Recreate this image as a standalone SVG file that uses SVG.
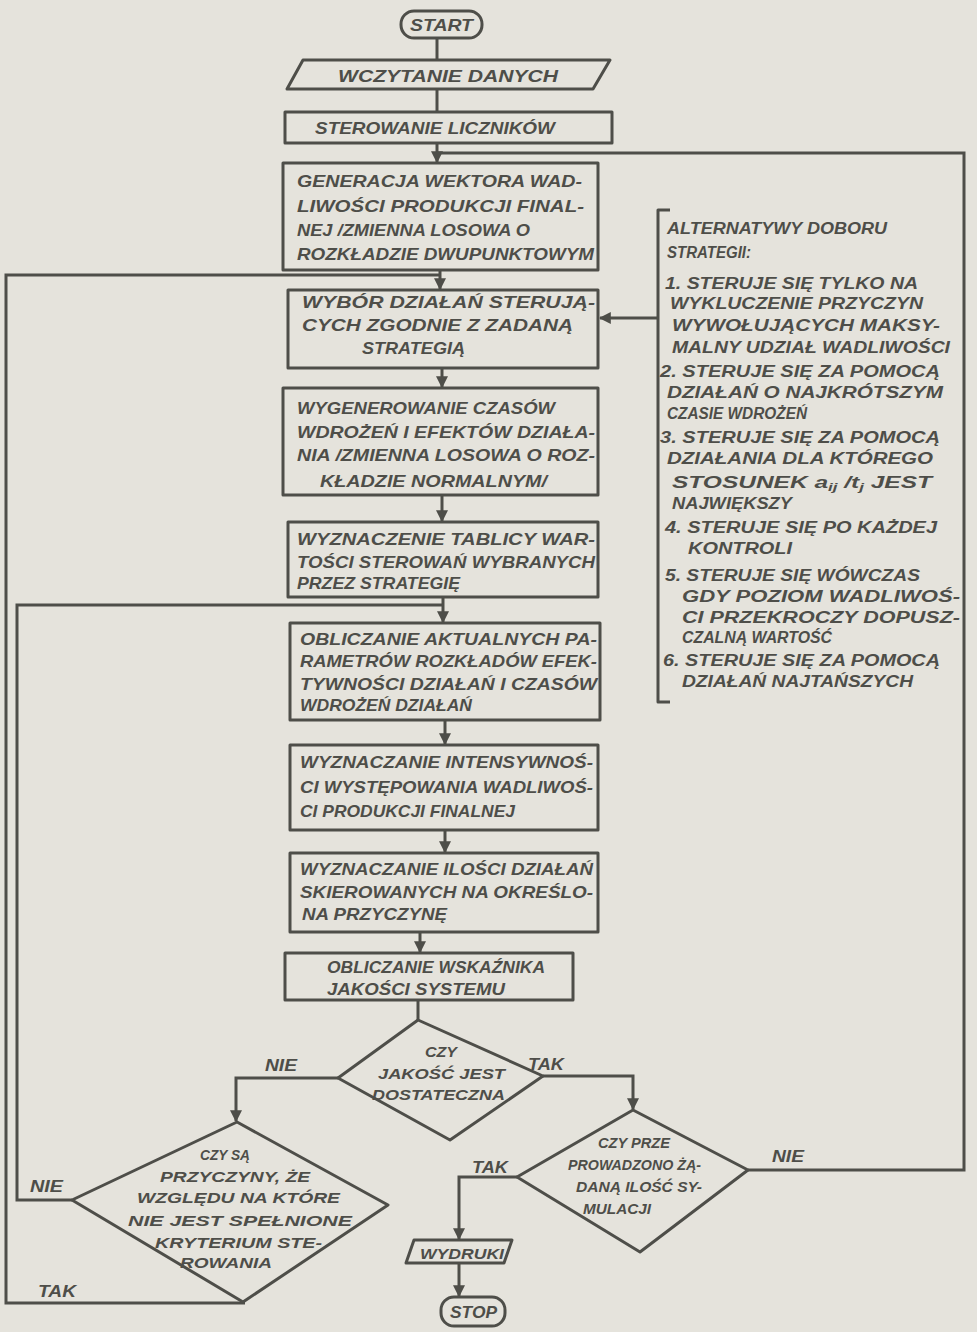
<svg xmlns="http://www.w3.org/2000/svg" width="977" height="1332" viewBox="0 0 977 1332">
<style>
.bg{fill:#e5e3dc}
.sh{fill:none;stroke:#4e4e49;stroke-width:3;stroke-linejoin:round}
.ln{fill:none;stroke:#4e4e49;stroke-width:3}
text{font-family:"Liberation Sans",Arial,sans-serif;font-weight:bold;font-style:italic;fill:#4e4e49;font-size:17px}
.s{font-size:15px}
.l{font-size:16px}
</style>
<defs>
<marker id="ah" viewBox="0 0 10 10" refX="9" refY="5" markerWidth="4" markerHeight="4" orient="auto">
<path d="M0,0 L10,5 L0,10 z" fill="#4e4e49"/>
</marker>
</defs>
<rect class="bg" x="0" y="0" width="977" height="1332"/>

<g id="connectors">
<path class="ln" d="M437,38 V60"/>
<path class="ln" d="M437,89 V112"/>
<path class="ln" d="M437,143 V162" marker-end="url(#ah)"/>
<path class="ln" d="M748,1170 H964 V153 H437"/>
<path class="ln" d="M440,270 V289" marker-end="url(#ah)"/>
<path class="ln" d="M245,1303 H6 V275 H440"/>
<path class="ln" d="M658,318 H600" marker-end="url(#ah)"/>
<path class="ln" d="M442,368 V387" marker-end="url(#ah)"/>
<path class="ln" d="M442,495 V521" marker-end="url(#ah)"/>
<path class="ln" d="M443,597 V622" marker-end="url(#ah)"/>
<path class="ln" d="M72,1200 H17 V605 H443"/>
<path class="ln" d="M445,720 V744" marker-end="url(#ah)"/>
<path class="ln" d="M445,830 V852" marker-end="url(#ah)"/>
<path class="ln" d="M420,932 V952" marker-end="url(#ah)"/>
<path class="ln" d="M418,1000 V1020"/>
<path class="ln" d="M338,1078 H236 V1121" marker-end="url(#ah)"/>
<path class="ln" d="M543,1076 H633 V1109" marker-end="url(#ah)"/>
<path class="ln" d="M517,1177 H459 V1239" marker-end="url(#ah)"/>
<path class="ln" d="M459,1263 V1296" marker-end="url(#ah)"/>
<text x="265" y="1071" textLength="32" lengthAdjust="spacingAndGlyphs">NIE</text>
<text x="528" y="1070" textLength="36" lengthAdjust="spacingAndGlyphs">TAK</text>
<text x="30" y="1192" textLength="33" lengthAdjust="spacingAndGlyphs">NIE</text>
<text x="38" y="1297" textLength="38" lengthAdjust="spacingAndGlyphs">TAK</text>
<text x="472" y="1173" textLength="36" lengthAdjust="spacingAndGlyphs">TAK</text>
<text x="772" y="1162" textLength="32" lengthAdjust="spacingAndGlyphs">NIE</text>
</g>

<g id="start">
<rect class="sh" x="401" y="11" width="81" height="27" rx="13"/>
<text x="410" y="31" textLength="63" lengthAdjust="spacingAndGlyphs">START</text>
</g>

<g id="wczytanie">
<path class="sh" d="M303,60 H610 L593,89 H287 Z"/>
<text x="338" y="82" textLength="220" lengthAdjust="spacingAndGlyphs">WCZYTANIE DANYCH</text>
</g>

<g id="sterowanie">
<rect class="sh" x="285" y="112" width="327" height="31"/>
<text x="315" y="134" textLength="240" lengthAdjust="spacingAndGlyphs">STEROWANIE LICZNIKÓW</text>
</g>

<g id="generacja">
<rect class="sh" x="283" y="163" width="315" height="107"/>
<text x="297" y="187" textLength="285" lengthAdjust="spacingAndGlyphs">GENERACJA WEKTORA WAD-</text>
<text x="297" y="212" textLength="287" lengthAdjust="spacingAndGlyphs">LIWOŚCI PRODUKCJI FINAL-</text>
<text x="297" y="236" textLength="233" lengthAdjust="spacingAndGlyphs">NEJ /ZMIENNA LOSOWA O</text>
<text x="297" y="260" textLength="297" lengthAdjust="spacingAndGlyphs">ROZKŁADZIE DWUPUNKTOWYM</text>
</g>

<g id="wybor">
<rect class="sh" x="288" y="290" width="310" height="78"/>
<text x="302" y="308" textLength="293" lengthAdjust="spacingAndGlyphs">WYBÓR DZIAŁAŃ STERUJĄ-</text>
<text x="302" y="331" textLength="271" lengthAdjust="spacingAndGlyphs">CYCH ZGODNIE Z ZADANĄ</text>
<text x="362" y="354" textLength="103" lengthAdjust="spacingAndGlyphs">STRATEGIĄ</text>
</g>

<g id="wygenerowanie">
<rect class="sh" x="283" y="388" width="315" height="107"/>
<text x="297" y="414" textLength="258" lengthAdjust="spacingAndGlyphs">WYGENEROWANIE CZASÓW</text>
<text x="297" y="438" textLength="298" lengthAdjust="spacingAndGlyphs">WDROŻEŃ I EFEKTÓW DZIAŁA-</text>
<text x="297" y="461" textLength="298" lengthAdjust="spacingAndGlyphs">NIA /ZMIENNA LOSOWA O ROZ-</text>
<text x="320" y="487" textLength="227" lengthAdjust="spacingAndGlyphs">KŁADZIE NORMALNYM/</text>
</g>

<g id="tablica">
<rect class="sh" x="288" y="522" width="310" height="75"/>
<text x="297" y="545" textLength="298" lengthAdjust="spacingAndGlyphs">WYZNACZENIE TABLICY WAR-</text>
<text x="297" y="568" textLength="298" lengthAdjust="spacingAndGlyphs">TOŚCI STEROWAŃ WYBRANYCH</text>
<text x="297" y="589" textLength="163" lengthAdjust="spacingAndGlyphs">PRZEZ STRATEGIĘ</text>
</g>

<g id="parametry">
<rect class="sh" x="290" y="623" width="310" height="97"/>
<text x="300" y="645" textLength="297" lengthAdjust="spacingAndGlyphs">OBLICZANIE AKTUALNYCH PA-</text>
<text x="300" y="667" textLength="297" lengthAdjust="spacingAndGlyphs">RAMETRÓW ROZKŁADÓW EFEK-</text>
<text x="300" y="690" textLength="297" lengthAdjust="spacingAndGlyphs">TYWNOŚCI DZIAŁAŃ I CZASÓW</text>
<text x="300" y="711" textLength="172" lengthAdjust="spacingAndGlyphs">WDROŻEŃ DZIAŁAŃ</text>
</g>

<g id="intensywnosc">
<rect class="sh" x="290" y="745" width="308" height="85"/>
<text x="300" y="768" textLength="293" lengthAdjust="spacingAndGlyphs">WYZNACZANIE INTENSYWNOŚ-</text>
<text x="300" y="793" textLength="293" lengthAdjust="spacingAndGlyphs">CI WYSTĘPOWANIA WADLIWOŚ-</text>
<text x="300" y="817" textLength="215" lengthAdjust="spacingAndGlyphs">CI PRODUKCJI FINALNEJ</text>
</g>

<g id="ilosc">
<rect class="sh" x="290" y="853" width="308" height="79"/>
<text x="300" y="875" textLength="293" lengthAdjust="spacingAndGlyphs">WYZNACZANIE ILOŚCI DZIAŁAŃ</text>
<text x="300" y="898" textLength="293" lengthAdjust="spacingAndGlyphs">SKIEROWANYCH NA OKREŚLO-</text>
<text x="302" y="920" textLength="145" lengthAdjust="spacingAndGlyphs">NA PRZYCZYNĘ</text>
</g>

<g id="wskaznik">
<rect class="sh" x="285" y="953" width="288" height="47"/>
<text x="327" y="973" textLength="218" lengthAdjust="spacingAndGlyphs">OBLICZANIE WSKAŹNIKA</text>
<text x="327" y="995" textLength="178" lengthAdjust="spacingAndGlyphs">JAKOŚCI SYSTEMU</text>
</g>

<g id="jakosc">
<path class="sh" d="M418,1020 L543,1076 L450,1140 L338,1078 Z"/>
<text x="425" y="1057" textLength="32" lengthAdjust="spacingAndGlyphs" class="s">CZY</text>
<text x="378" y="1079" textLength="127" lengthAdjust="spacingAndGlyphs" class="s">JAKOŚĆ JEST</text>
<text x="372" y="1100" textLength="133" lengthAdjust="spacingAndGlyphs" class="s">DOSTATECZNA</text>
</g>

<g id="przyczyny">
<path class="sh" d="M237,1122 L388,1205 L243,1302 L72,1200 Z"/>
<text x="200" y="1160" textLength="50" lengthAdjust="spacingAndGlyphs" class="s">CZY SĄ</text>
<text x="160" y="1182" textLength="150" lengthAdjust="spacingAndGlyphs" class="s">PRZYCZYNY, ŻE</text>
<text x="137" y="1203" textLength="203" lengthAdjust="spacingAndGlyphs" class="s">WZGLĘDU NA KTÓRE</text>
<text x="128" y="1226" textLength="224" lengthAdjust="spacingAndGlyphs" class="s">NIE JEST SPEŁNIONE</text>
<text x="155" y="1248" textLength="167" lengthAdjust="spacingAndGlyphs" class="s">KRYTERIUM STE-</text>
<text x="180" y="1268" textLength="92" lengthAdjust="spacingAndGlyphs" class="s">ROWANIA</text>
</g>

<g id="symulacje">
<path class="sh" d="M633,1110 L748,1170 L640,1252 L517,1177 Z"/>
<text x="598" y="1148" textLength="72" lengthAdjust="spacingAndGlyphs" class="s">CZY PRZE</text>
<text x="568" y="1170" textLength="133" lengthAdjust="spacingAndGlyphs" class="s">PROWADZONO ŻĄ-</text>
<text x="576" y="1192" textLength="126" lengthAdjust="spacingAndGlyphs" class="s">DANĄ ILOŚĆ SY-</text>
<text x="583" y="1214" textLength="68" lengthAdjust="spacingAndGlyphs" class="s">MULACJI</text>
</g>

<g id="wydruki">
<path class="sh" d="M414,1240 H512 L504,1263 H406 Z"/>
<text x="420" y="1259" textLength="84" lengthAdjust="spacingAndGlyphs" class="s">WYDRUKI</text>
</g>

<g id="stop">
<rect class="sh" x="441" y="1297" width="64" height="29" rx="13"/>
<text x="450" y="1318" textLength="47" lengthAdjust="spacingAndGlyphs">STOP</text>
</g>

<g id="strategie">
<path class="sh" d="M670,210 H658 V702 H670"/>
<text x="667" y="234" textLength="220" lengthAdjust="spacingAndGlyphs" class="l">ALTERNATYWY DOBORU</text>
<text x="667" y="258" textLength="84" lengthAdjust="spacingAndGlyphs" class="l">STRATEGII:</text>
<text x="665" y="289" textLength="253" lengthAdjust="spacingAndGlyphs" class="l">1. STERUJE SIĘ TYLKO NA</text>
<text x="670" y="309" textLength="253" lengthAdjust="spacingAndGlyphs" class="l">WYKLUCZENIE PRZYCZYN</text>
<text x="672" y="331" textLength="268" lengthAdjust="spacingAndGlyphs" class="l">WYWOŁUJĄCYCH MAKSY-</text>
<text x="672" y="353" textLength="278" lengthAdjust="spacingAndGlyphs" class="l">MALNY UDZIAŁ WADLIWOŚCI</text>
<text x="660" y="377" textLength="280" lengthAdjust="spacingAndGlyphs" class="l">2. STERUJE SIĘ ZA POMOCĄ</text>
<text x="667" y="398" textLength="276" lengthAdjust="spacingAndGlyphs" class="l">DZIAŁAŃ O NAJKRÓTSZYM</text>
<text x="667" y="419" textLength="140" lengthAdjust="spacingAndGlyphs" class="l">CZASIE WDROŻEŃ</text>
<text x="660" y="443" textLength="280" lengthAdjust="spacingAndGlyphs" class="l">3. STERUJE SIĘ ZA POMOCĄ</text>
<text x="667" y="464" textLength="266" lengthAdjust="spacingAndGlyphs" class="l">DZIAŁANIA DLA KTÓREGO</text>
<text x="672" y="488" class="l" textLength="260" lengthAdjust="spacingAndGlyphs">STOSUNEK <tspan>a</tspan><tspan font-size="11" dy="3">ij</tspan><tspan dy="-3"> /</tspan><tspan>t</tspan><tspan font-size="11" dy="3">j</tspan><tspan dy="-3"> JEST</tspan></text>
<text x="672" y="509" textLength="120" lengthAdjust="spacingAndGlyphs" class="l">NAJWIĘKSZY</text>
<text x="665" y="533" textLength="272" lengthAdjust="spacingAndGlyphs" class="l">4. STERUJE SIĘ PO KAŻDEJ</text>
<text x="688" y="554" textLength="104" lengthAdjust="spacingAndGlyphs" class="l">KONTROLI</text>
<text x="665" y="581" textLength="255" lengthAdjust="spacingAndGlyphs" class="l">5. STERUJE SIĘ WÓWCZAS</text>
<text x="682" y="602" textLength="278" lengthAdjust="spacingAndGlyphs" class="l">GDY POZIOM WADLIWOŚ-</text>
<text x="682" y="623" textLength="278" lengthAdjust="spacingAndGlyphs" class="l">CI PRZEKROCZY DOPUSZ-</text>
<text x="682" y="643" textLength="150" lengthAdjust="spacingAndGlyphs" class="l">CZALNĄ WARTOŚĆ</text>
<text x="663" y="666" textLength="277" lengthAdjust="spacingAndGlyphs" class="l">6. STERUJE SIĘ ZA POMOCĄ</text>
<text x="682" y="687" textLength="231" lengthAdjust="spacingAndGlyphs" class="l">DZIAŁAŃ NAJTAŃSZYCH</text>
</g>
</svg>
